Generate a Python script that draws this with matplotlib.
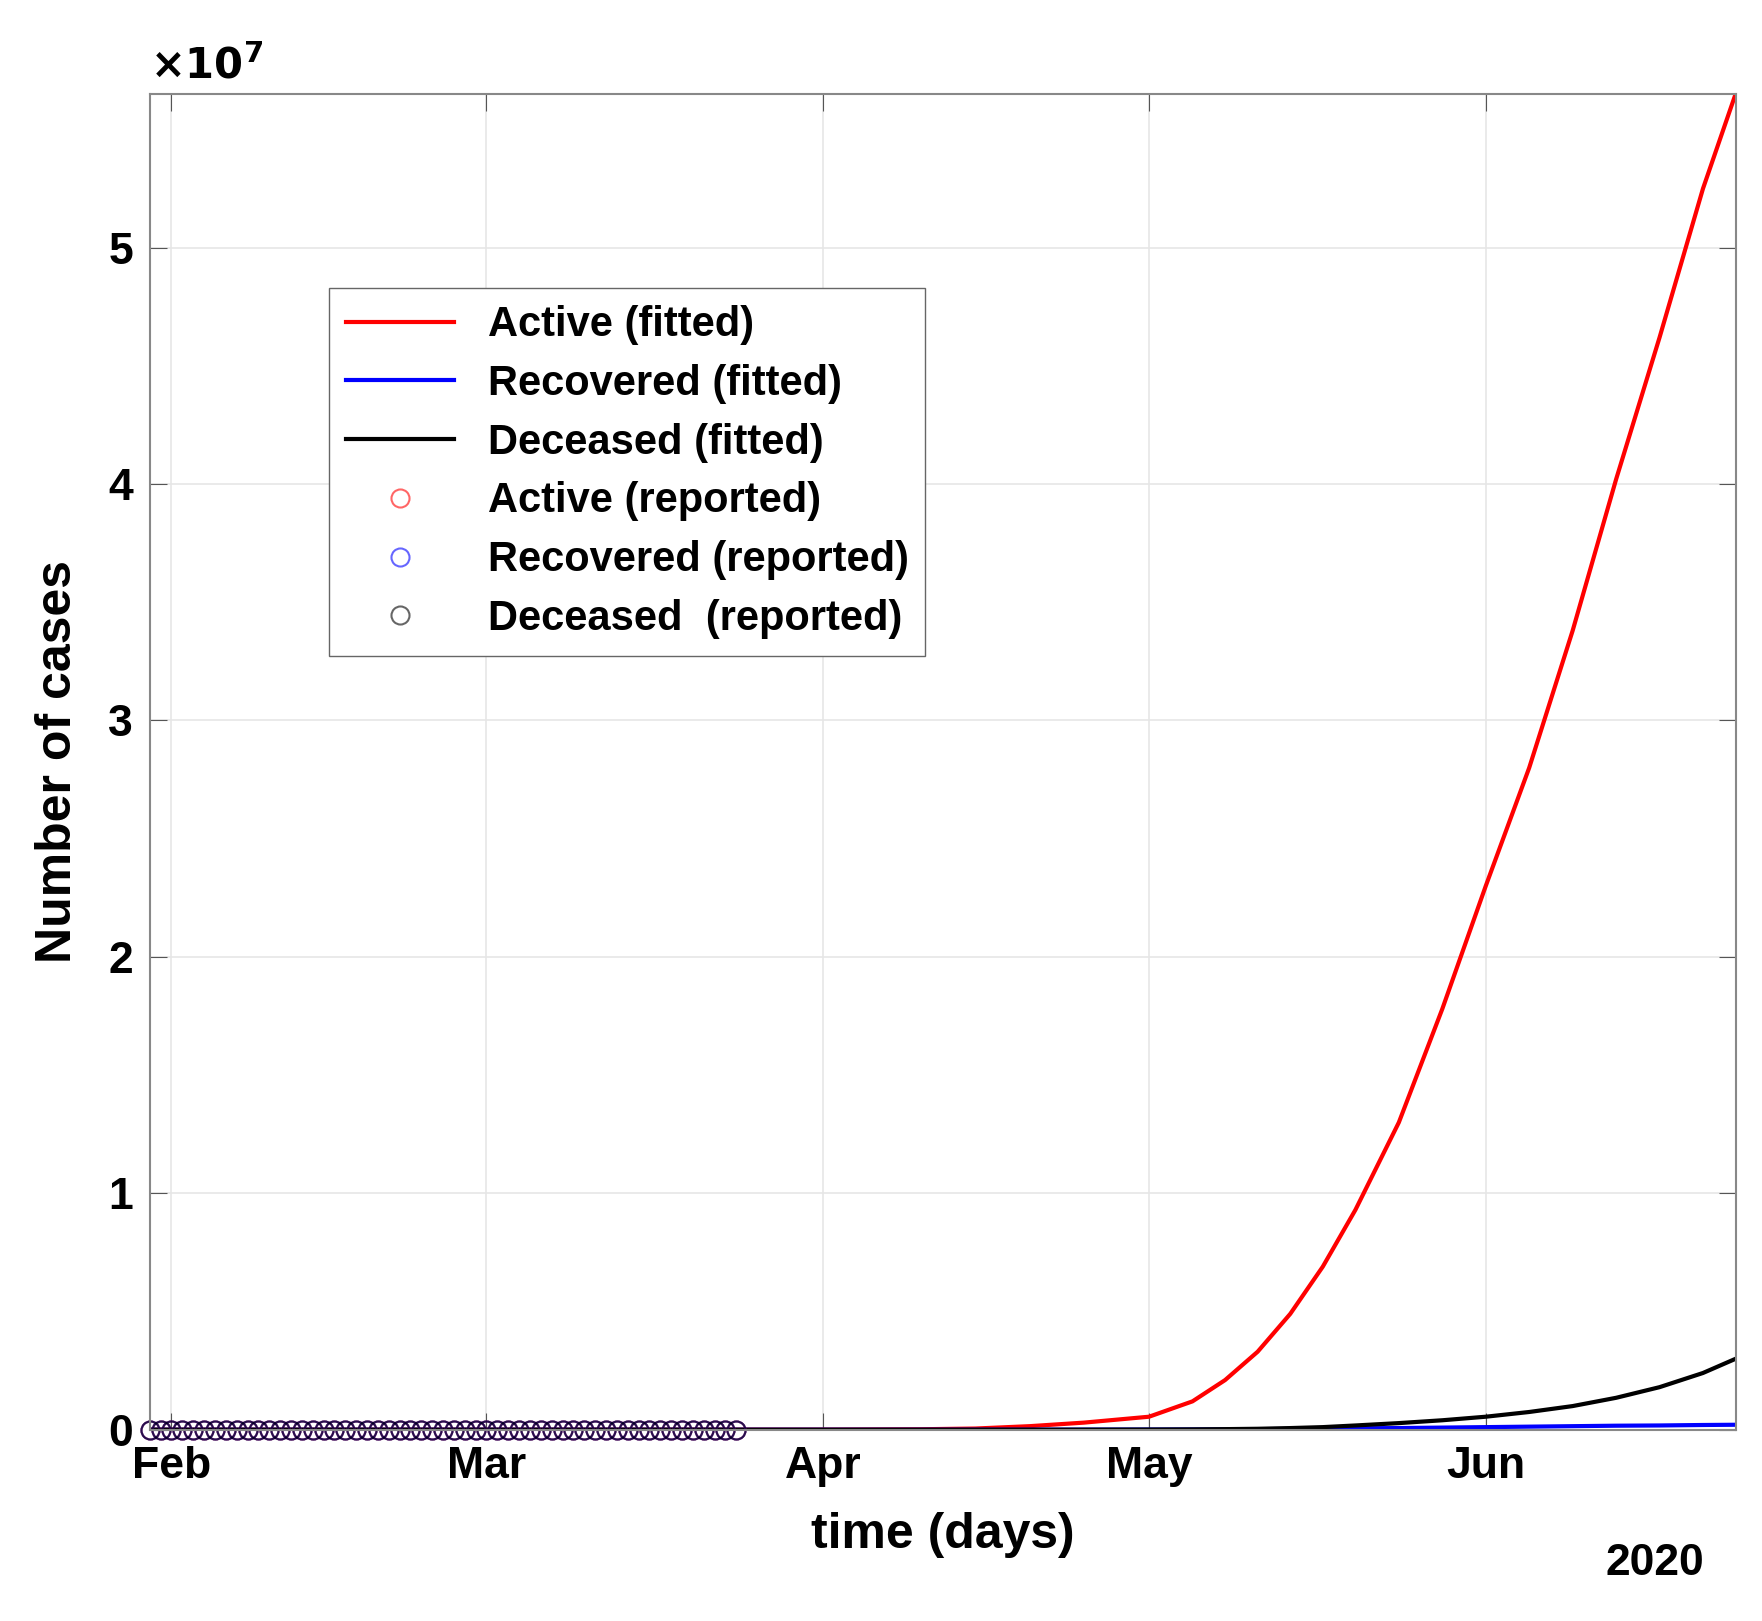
import numpy as np
import matplotlib
matplotlib.use('Agg')
import matplotlib.pyplot as plt
import matplotlib.dates as mdates

plt.rcParams['font.family'] = ['Liberation Sans', 'DejaVu Sans']
plt.rcParams['font.weight'] = 'bold'

# fitted curves (read at key dates, cases)
fit_dates = ['2020-01-30', '2020-03-01', '2020-04-01', '2020-04-10', '2020-04-15',
             '2020-04-20', '2020-04-25', '2020-05-01', '2020-05-05', '2020-05-08',
             '2020-05-11', '2020-05-14', '2020-05-17', '2020-05-20', '2020-05-24',
             '2020-05-28', '2020-06-01', '2020-06-05', '2020-06-09', '2020-06-13',
             '2020-06-17', '2020-06-21', '2020-06-24']
active_fit = [0, 1e3, 5e3, 2e4, 5e4, 1.5e5, 3.0e5, 5.5e5, 1.2e6, 2.1e6,
              3.3e6, 4.9e6, 6.9e6, 9.3e6, 1.30e7, 1.78e7, 2.30e7, 2.80e7, 3.38e7, 4.02e7,
              4.62e7, 5.25e7, 5.65e7]
recovered_fit = [0, 0, 0, 0, 1e3, 2e3, 4e3, 8e3, 1.2e4, 1.6e4,
                 2.5e4, 3.2e4, 4e4, 6e4, 7e4, 9e4, 1.1e5, 1.3e5, 1.5e5, 1.7e5,
                 1.8e5, 2.0e5, 2.1e5]
deceased_fit = [0, 0, 0, 0, 0, 1e3, 3e3, 8e3, 1.5e4, 2.5e4,
                4e4, 7e4, 1.1e5, 1.8e5, 2.8e5, 4e5, 5.5e5, 7.5e5, 1.0e6, 1.35e6,
                1.8e6, 2.4e6, 3.0e6]

# reported daily data (all near zero on this scale)
rep_dates = np.arange(np.datetime64('2020-01-30'), np.datetime64('2020-03-25'))
rep_active = np.zeros(len(rep_dates))
rep_recovered = np.zeros(len(rep_dates))
rep_deceased = np.zeros(len(rep_dates))

fd = np.array(fit_dates, dtype='datetime64[D]')

fig = plt.figure(figsize=(17.62, 16.21), dpi=100)
ax = fig.add_axes([0.085, 0.118, 0.9, 0.824])

ax.plot(fd, active_fit, color='red', lw=3, label='Active (fitted)')
ax.plot(fd, recovered_fit, color='blue', lw=3, label='Recovered (fitted)')
ax.plot(fd, deceased_fit, color='black', lw=3, label='Deceased (fitted)')
kw = dict(ls='none', marker='o', ms=13, mfc='none', mew=1.5, clip_on=False, alpha=0.6)
ax.plot(rep_dates, rep_active, color='red', label='Active (reported)', **kw)
ax.plot(rep_dates, rep_recovered, color='blue', label='Recovered (reported)', **kw)
ax.plot(rep_dates, rep_deceased, color='black', label='Deceased  (reported)', **kw)

ax.set_xlim(np.datetime64('2020-01-30'), np.datetime64('2020-06-24'))
ax.set_ylim(0, 5.65e7)
ax.set_yticks(np.arange(0, 6e7, 1e7))
ax.set_yticklabels([str(i) for i in range(6)])
ax.text(0.0, 1.005, r'$\times10^7$', transform=ax.transAxes, fontsize=30, va='bottom')

ax.xaxis.set_major_locator(mdates.MonthLocator())
ax.xaxis.set_major_formatter(mdates.DateFormatter('%b'))
ax.text(0.98, -0.085, '2020', transform=ax.transAxes, fontsize=32, ha='right',
        va='top', fontweight='bold')

ax.tick_params(axis='both', which='major', labelsize=32, direction='in',
               length=12, top=True, right=True, color='#555555', pad=12)
ax.grid(True, color='#e6e6e6', lw=1.2)
for s in ax.spines.values():
    s.set_color('#888888')
    s.set_linewidth(1.5)

ax.set_xlabel('time (days)', fontsize=36, fontweight='bold', labelpad=18)
ax.set_ylabel('Number of cases', fontsize=36, fontweight='bold', labelpad=20)

ax.legend(loc='upper left', bbox_to_anchor=(0.1, 0.87), fontsize=30,
          fancybox=False, edgecolor='#666666', framealpha=1, handlelength=2.6,
          labelspacing=0.45, borderpad=0.4)

fig.savefig('out.png', dpi=100)
